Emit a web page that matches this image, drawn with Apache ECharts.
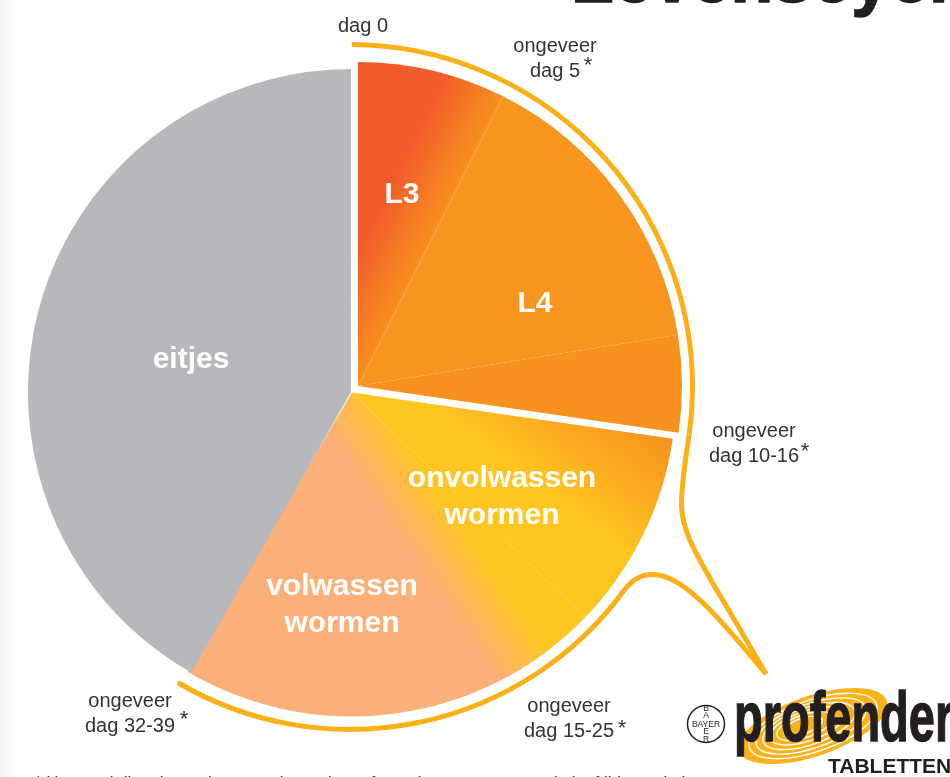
<!DOCTYPE html>
<html>
<head>
<meta charset="utf-8">
<title>Levenscyclus</title>
<style>
    html, body { margin: 0; padding: 0; background: #fff; overflow: hidden; }
    #main { width: 950px; height: 777px; }
</style>
<script src="https://cdn.jsdelivr.net/npm/echarts@6/dist/echarts.min.js"></script>
</head>
<body>
<div id="main"></div>
<script>
// aandeel van elke fase in graden
var larvaeNames = ['L3', 'L4', ''];
var larvaeValues = [26.6, 54.3, 17.4];
var wormNames = ['onvolwassen\nwormen', 'volwassen\nwormen'];
var wormValues = [35.8, 76.5];
var eggNames = ['eitjes'];
var eggValues = [150.4];

var dayLabels = ['dag 0', 'ongeveer\ndag 5', 'ongeveer\ndag 10-16', 'ongeveer\ndag 15-25', 'ongeveer\ndag 32-39'];
var titleText = 'Levenscyclus';
var footnoteText = '* Hoe snel dit gebeurt, hangt onder andere af van de soort worm en de leeftijd van de kat.';

var FONT = '"Liberation Sans", Arial, sans-serif';
var RING = '#FBB017';
var INK = '#333333';

var chartDom = document.getElementById('main');
var myChart = echarts.init(chartDom);

// kleurverlopen staan in schermcoordinaten (global = true)
function globalGradient(x, y, x2, y2, from, to) {
    return new echarts.graphic.LinearGradient(x, y, x2, y2, [
        { offset: 0, color: from },
        { offset: 1, color: to }
    ], true);
}

var larvaeColors = [
    globalGradient(408, 152, 465, 180, '#F25C2A', '#F7941E'),
    '#F8951F',
    '#F8921F'
];
var wormColors = [
    globalGradient(482, 445, 554, 349, '#FFC620', '#F7901E'),
    globalGradient(348, 463, 398, 429, '#FBAF79', '#FFC620')
];
var eggColors = ['#B7B8BB'];

function sliceData(names, values, colors) {
    var list = [];
    for (var i = 0; i < values.length; i++) {
        list.push({
            name: names[i],
            value: values[i],
            itemStyle: { color: colors[i], borderWidth: 0 }
        });
    }
    return list;
}

function pieSeries(center, radius, startAngle, endAngle, names, values, colors, labelSpots) {
    return {
        type: 'pie',
        center: center,
        radius: [0, radius],
        startAngle: startAngle,
        endAngle: endAngle,
        clockwise: true,
        animation: false,
        silent: true,
        avoidLabelOverlap: false,
        minShowLabelAngle: 0,
        label: {
            show: true,
            position: 'inside',
            color: '#fff',
            fontFamily: FONT,
            fontWeight: 'bold',
            fontSize: 30,
            lineHeight: 37,
            align: 'center',
            verticalAlign: 'middle'
        },
        labelLine: { show: false },
        labelLayout: function (params) {
            return { x: labelSpots[params.dataIndex][0], y: labelSpots[params.dataIndex][1], align: 'center', verticalAlign: 'middle' };
        },
        data: sliceData(names, values, colors)
    };
}

function txt(text, x, y, size, extra) {
    var style = {
        text: text,
        x: x,
        y: y,
        fill: INK,
        font: size + 'px ' + FONT,
        align: 'center',
        verticalAlign: 'middle',
        lineHeight: 24.5
    };
    for (var k in extra) { style[k] = extra[k]; }
    return { type: 'text', silent: true, z: 20, style: style };
}

function compass(deg) {
    return (deg - 90) * Math.PI / 180;
}

function ringArc(cx, cy, r, from, to) {
    return {
        type: 'arc',
        silent: true,
        z: 10,
        shape: { cx: cx, cy: cy, r: r, startAngle: compass(from), endAngle: compass(to), clockwise: true },
        style: { stroke: RING, lineWidth: 5, fill: null }
    };
}

function ringCurve(x1, y1, c1x, c1y, c2x, c2y, x2, y2) {
    return {
        type: 'bezierCurve',
        silent: true,
        z: 10,
        shape: { x1: x1, y1: y1, cpx1: c1x, cpy1: c1y, cpx2: c2x, cpy2: c2y, x2: x2, y2: y2 },
        style: { stroke: RING, lineWidth: 5, fill: null }
    };
}

var graphics = [
    // schaduwrand links
    {
        type: 'rect', silent: true, z: 0,
        shape: { x: 0, y: 0, width: 18, height: 777 },
        style: { fill: new echarts.graphic.LinearGradient(0, 0, 1, 0, [
            { offset: 0, color: '#F1F1F1' },
            { offset: 1, color: '#FFFFFF' }
        ]) }
    },
    // gele lijn rond de taart
    ringArc(350, 387, 342.5, 0.3, 98),
    ringCurve(689.2, 434.7, 685.5, 460, 681.5, 482, 681.5, 505),
    ringCurve(681.5, 505, 682, 530, 695, 552, 712, 582),
    ringCurve(712, 582, 730, 612, 748, 643, 766, 674),
    ringArc(350, 390, 339.5, 126.3, 210.5),
    ringCurve(623.6, 591, 632, 580, 640, 574.5, 653, 574.5),
    ringCurve(653, 574.5, 685, 574.5, 725, 625, 766, 674),
    // titel en voetnoot, vallen deels buiten beeld
    txt(titleText, 571, -17, 70, { font: 'bold 70px ' + FONT, fill: '#231F20', stroke: '#231F20', lineWidth: 1.5, align: 'left', lineHeight: 80 }),
    txt(footnoteText, 35, 783.5, 17, { align: 'left', fill: '#333' }),
    // daglabels
    txt(dayLabels[0], 363, 26, 20),
    txt(dayLabels[1], 555, 59, 20),
    txt('*', 588, 66, 22),
    txt(dayLabels[2], 754, 444, 20),
    txt('*', 805, 452, 22),
    txt(dayLabels[3], 569, 719, 20),
    txt('*', 622, 729, 22),
    txt(dayLabels[4], 130, 714, 20),
    txt('*', 184, 720, 22)
];

// Bayer-kruis
graphics.push({
    type: 'circle', silent: true, z: 20,
    shape: { cx: 706, cy: 724, r: 18.5 },
    style: { stroke: '#231F20', lineWidth: 1.5, fill: '#fff' }
});
graphics.push(txt('BAYER', 706, 724.5, 8.5, { font: '8.5px ' + FONT, fill: '#231F20' }));
graphics.push(txt('B\nA\n\nE\nR', 706, 724, 8.5, { font: '8.5px ' + FONT, fill: '#231F20', lineHeight: 7.9 }));

// Profender-logo: gele spiraal achter de letters
graphics.push({
    type: 'ellipse', silent: true, z: 15,
    x: 813, y: 726, rotation: 0.33,
    shape: { cx: 0, cy: 0, rx: 78, ry: 30 },
    style: { fill: '#F9B21A' }
});
var swirlScales = [0.86, 0.74, 0.62, 0.5, 0.38, 0.26];
for (var s = 0; s < swirlScales.length; s++) {
    graphics.push({
        type: 'ellipse', silent: true, z: 16,
        x: 813 - s * 2, y: 726, rotation: 0.33,
        shape: { cx: 0, cy: 0, rx: 78 * swirlScales[s], ry: 30 * swirlScales[s] },
        style: { fill: null, stroke: '#fff', lineWidth: 1.4 }
    });
}
graphics.push({
    type: 'text', silent: true, z: 20,
    x: 734, y: 722, scaleX: 0.77, scaleY: 1.15,
    style: {
        text: 'profender',
        x: 0, y: 0,
        fill: '#231F20',
        stroke: '#231F20',
        lineWidth: 1.2,
        font: 'bold 61px "Liberation Sans Narrow", ' + FONT,
        align: 'left',
        verticalAlign: 'middle'
    }
});
graphics.push(txt('TABLETTEN', 828, 767, 21, { font: 'bold 21px ' + FONT, fill: '#231F20', align: 'left' }));

var option = {
    backgroundColor: '#fff',
    animation: false,
    series: [
        pieSeries([352, 392.5], 324, -8.2, -120.5, wormNames, wormValues, wormColors, [[502, 497], [342, 605]]),
        pieSeries([351, 392], 323, -119.6, -270, eggNames, eggValues, eggColors, [[191, 360]]),
        pieSeries([358, 386], 324, 90, -8.3, larvaeNames, larvaeValues, larvaeColors, [[402, 195], [535, 304], [520, 400]])
    ],
    graphic: { elements: graphics }
};

myChart.setOption(option);
</script>
</body>
</html>
